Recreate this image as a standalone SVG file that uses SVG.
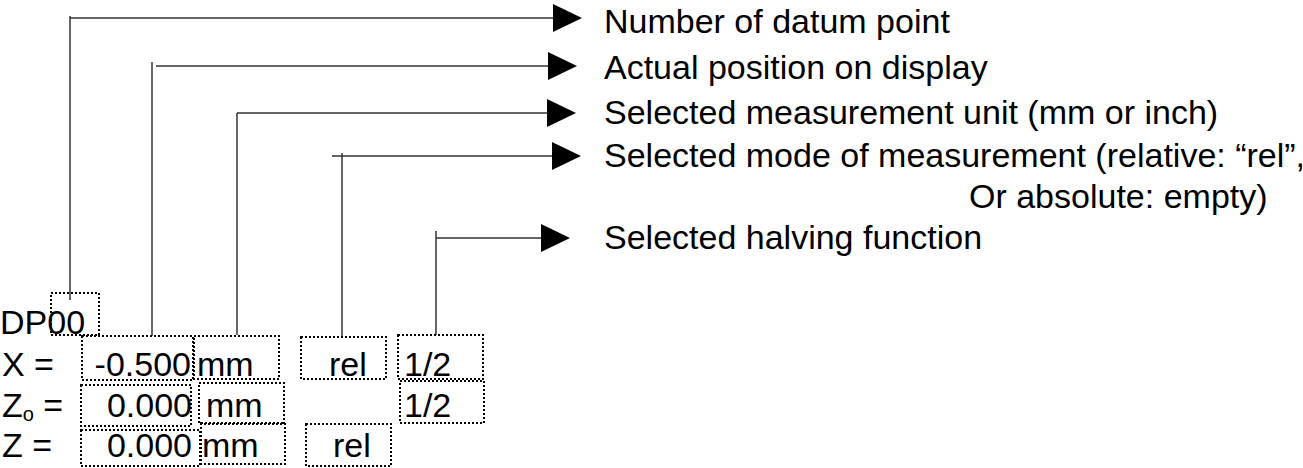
<svg xmlns="http://www.w3.org/2000/svg" width="1303" height="468" viewBox="0 0 1303 468">
<style>
text{font-family:"Liberation Sans",Arial,sans-serif;font-size:34px;fill:#000}
.box{fill:none;stroke:#000;stroke-width:2;stroke-dasharray:2 2}
.ln{fill:none;stroke:#333;stroke-width:1.5}
</style>
<defs>
<marker id="ah" viewBox="0 0 29 28" refX="0" refY="14" markerWidth="29" markerHeight="28" markerUnits="userSpaceOnUse" orient="auto">
<path d="M0,0 L29,14 L0,28 z" fill="#000"/>
</marker>
</defs>
<rect width="1303" height="468" fill="#fff"/>
<g id="connectors">
<path class="ln" d="M70,16 V300"/>
<path class="ln" d="M70,18 H553" marker-end="url(#ah)"/>
<path class="ln" d="M152,62 V336"/>
<path class="ln" d="M156,66 H548" marker-end="url(#ah)"/>
<path class="ln" d="M237,113 V335"/>
<path class="ln" d="M237,113 H547" marker-end="url(#ah)"/>
<path class="ln" d="M342,153 V336"/>
<path class="ln" d="M332,156 H552" marker-end="url(#ah)"/>
<path class="ln" d="M436,231 V335"/>
<path class="ln" d="M436,238 H541" marker-end="url(#ah)"/>
</g>
<g id="labels">
<text x="604" y="33">Number of datum point</text>
<text x="604" y="79">Actual position on display</text>
<text x="604" y="124">Selected measurement unit (mm or inch)</text>
<text x="604" y="167">Selected mode of measurement (relative: “rel”,</text>
<text x="969" y="208">Or absolute: empty)</text>
<text x="604" y="249">Selected halving function</text>
</g>
<g id="row-dp">
<text x="0" y="334">DP00</text>
<rect class="box" x="51" y="293" width="48" height="42"/>
</g>
<g id="row-x">
<text x="2" y="376">X =</text>
<rect class="box" x="82" y="336" width="111" height="44"/>
<text x="191" y="376" text-anchor="end">-0.500</text>
<rect class="box" x="194" y="336" width="85" height="43"/>
<text x="197" y="376">mm</text>
<rect class="box" x="301" y="337" width="85" height="42"/>
<text x="329" y="376">rel</text>
<rect class="box" x="398" y="335" width="85" height="44"/>
<text x="404" y="376">1/2</text>
</g>
<g id="row-zo">
<text x="2" y="417">Z<tspan font-size="20" dy="4">o</tspan><tspan dy="-4"> =</tspan></text>
<rect class="box" x="81" y="385" width="110" height="41"/>
<text x="192" y="417" text-anchor="end">0.000</text>
<rect class="box" x="199" y="383" width="85" height="41"/>
<text x="206" y="417">mm</text>
<rect class="box" x="400" y="381" width="84" height="42"/>
<text x="404" y="417">1/2</text>
</g>
<g id="row-z">
<text x="2" y="457">Z =</text>
<rect class="box" x="81" y="430" width="119" height="36"/>
<text x="192" y="457" text-anchor="end">0.000</text>
<rect class="box" x="201" y="423" width="84" height="41"/>
<text x="202" y="457">mm</text>
<rect class="box" x="306" y="424" width="85" height="42"/>
<text x="333" y="457">rel</text>
</g>
</svg>
